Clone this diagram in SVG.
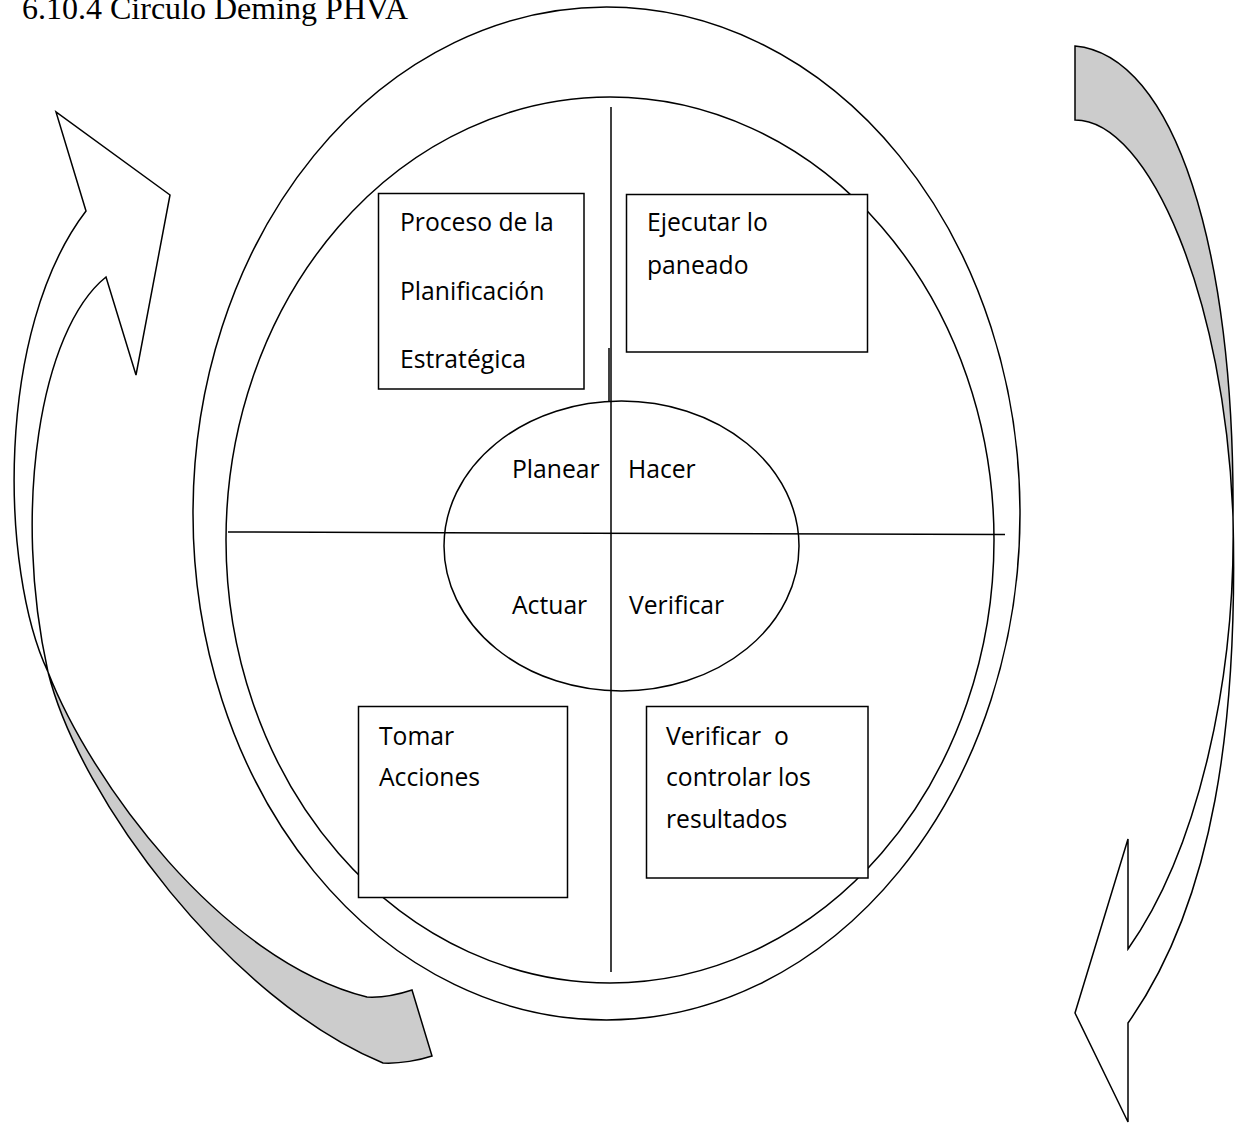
<svg xmlns="http://www.w3.org/2000/svg" width="1245" height="1133" viewBox="0 0 1245 1133">
<style>
.ln{fill:none;stroke:#000;stroke-width:1.5}
.box{fill:#fff;stroke:#000;stroke-width:1.5}
.t{font-family:"Open Sans","Noto Sans",sans-serif;font-size:24.7px;fill:#000}
.title{font-family:"Liberation Serif","Times New Roman",serif;font-size:32px;fill:#000}
.front{fill:#fff;stroke:#000;stroke-width:1.5;stroke-linejoin:miter}
.back{fill:#cccccc;stroke:#000;stroke-width:1.5}
</style>
<rect width="1245" height="1133" fill="#fff"/>
<text id="title" class="title" x="22" y="19">6.10.4 Circulo Deming PHVA</text>
<g id="outer-ring"><ellipse class="ln" cx="606.5" cy="513.5" rx="413.5" ry="506.5"/></g>
<g id="inner-ring"><ellipse class="ln" cx="610" cy="540" rx="384" ry="443"/></g>
<g id="center-ellipse"><ellipse class="ln" cx="621.5" cy="546" rx="177.5" ry="145"/></g>
<g id="connectors">
<line class="ln" x1="611" y1="107" x2="611" y2="972"/>
<line class="ln" x1="609" y1="348" x2="609" y2="401"/>
<line class="ln" x1="228" y1="532" x2="1005" y2="534.5"/>
</g>
<g id="box-planificacion">
<rect class="box" x="378.5" y="193.5" width="205.5" height="195.5"/>
<text class="t" x="400" y="231">Proceso de la</text>
<text class="t" x="400" y="300">Planificación</text>
<text class="t" x="400" y="368">Estratégica</text>
</g>
<g id="box-ejecutar">
<rect class="box" x="626.5" y="194.5" width="241" height="157.5"/>
<text class="t" x="647" y="231">Ejecutar lo</text>
<text class="t" x="647" y="274">paneado</text>
</g>
<g id="box-tomar">
<rect class="box" x="358.5" y="706.5" width="209" height="191"/>
<text class="t" x="379" y="745">Tomar</text>
<text class="t" x="379" y="786">Acciones</text>
</g>
<g id="box-verificar">
<rect class="box" x="646.5" y="706.5" width="221.5" height="171.5"/>
<text class="t" x="666" y="745" xml:space="preserve">Verificar  o</text>
<text class="t" x="666" y="786">controlar los</text>
<text class="t" x="666" y="828">resultados</text>
</g>
<g id="label-planear"><text class="t" x="512" y="478">Planear</text></g>
<g id="label-hacer"><text class="t" x="628" y="478">Hacer</text></g>
<g id="label-actuar"><text class="t" x="512" y="614">Actuar</text></g>
<g id="label-verificar"><text class="t" x="629" y="614">Verificar</text></g>
<g id="arrow-left">
<path class="back" d="M48,672 C90,780 220,960 367,997 C385,998 400,994 412,990 L432,1056 C420,1060 400,1064 383,1063 C230,1000 80,800 48,672 Z"/>
<path class="front" d="M86,211 L56,112 L170,195 L136,375 L106,277 C40,330 12,510 48,672 C0,570 -5,330 86,211 Z"/>
</g>
<g id="arrow-right">
<path class="back" d="M1075,46 C1175,55 1235,250 1233,517 C1225,300 1150,120 1075,120 Z"/>
<path class="front" d="M1233,517 C1238,720 1215,900 1128,1023 L1128,1122 L1075,1013 L1128,839 L1128,949 C1198,850 1236,680 1233,517 Z"/>
</g>
</svg>
